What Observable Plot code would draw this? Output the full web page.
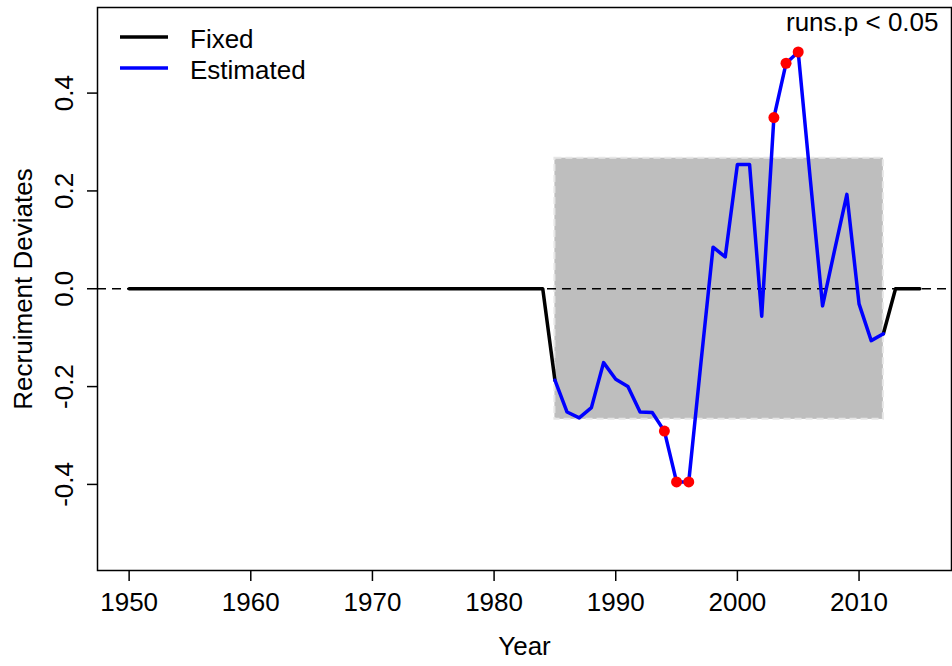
<!DOCTYPE html>
<html>
<head>
<meta charset="utf-8">
<script src="https://cdn.jsdelivr.net/npm/d3@7"></script>
<script src="https://cdn.jsdelivr.net/npm/@observablehq/plot@0.6"></script>
<style>
  body { margin: 0; background: white; }
  #chart { width: 952px; height: 666px; }
</style>
</head>
<body>
<div id="chart"></div>
<script>
// recruitment deviates
var years = [
  1950, 1951, 1952, 1953, 1954, 1955, 1956, 1957, 1958, 1959,
  1960, 1961, 1962, 1963, 1964, 1965, 1966, 1967, 1968, 1969,
  1970, 1971, 1972, 1973, 1974, 1975, 1976, 1977, 1978, 1979,
  1980, 1981, 1982, 1983, 1984, 1985, 1986, 1987, 1988, 1989,
  1990, 1991, 1992, 1993, 1994, 1995, 1996, 1997, 1998, 1999,
  2000, 2001, 2002, 2003, 2004, 2005, 2006, 2007, 2008, 2009,
  2010, 2011, 2012, 2013, 2014, 2015
];
var deviates = [
  0, 0, 0, 0, 0, 0, 0, 0, 0, 0,
  0, 0, 0, 0, 0, 0, 0, 0, 0, 0,
  0, 0, 0, 0, 0, 0, 0, 0, 0, 0,
  0, 0, 0, 0, 0, -0.187, -0.252, -0.264, -0.243, -0.151,
  -0.185, -0.2, -0.252, -0.253, -0.291, -0.395, -0.395, -0.152, 0.085, 0.065,
  0.254, 0.254, -0.056, 0.35, 0.461, 0.484, 0.222, -0.035, 0.08, 0.193,
  -0.031, -0.106, -0.092, 0, 0, 0
];
var estStart = 1985;
var estEnd = 2012;
var flaggedYears = [1994, 1995, 1996, 2003, 2004, 2005];
var boxYears = [1985, 2012];
var boxLimits = [-0.267, 0.267];
var xTicks = [1950, 1960, 1970, 1980, 1990, 2000, 2010];
var yTicks = [-0.4, -0.2, 0.0, 0.2, 0.4];
var legendItems = [
  { label: "Fixed", color: "black" },
  { label: "Estimated", color: "blue" }
];
var runsLabel = "runs.p < 0.05";

var rows = years.map((year, i) => ({ year: year, dev: deviates[i] }));
var fixedEarly = rows.filter((d) => d.year <= estStart);
var estimated = rows.filter((d) => d.year >= estStart && d.year <= estEnd);
var fixedLate = rows.filter((d) => d.year >= estEnd);
var flagged = rows.filter((d) => flaggedYears.includes(d.year));

// legend drawn in frame space (top-left corner)
function legend(index, scales, values, dims) {
  var g = d3.create("svg:g").attr("text-anchor", "start");
  legendItems.forEach((item, i) => {
    var y = dims.marginTop + 30 + i * 31;
    g.append("line")
      .attr("x1", dims.marginLeft + 23)
      .attr("x2", dims.marginLeft + 71)
      .attr("y1", y)
      .attr("y2", y)
      .attr("stroke", item.color)
      .attr("stroke-width", 3.5);
    g.append("text")
      .attr("x", dims.marginLeft + 93)
      .attr("y", y + 2)
      .attr("dy", "0.35em")
      .attr("fill", "black")
      .text(item.label);
  });
  return g.node();
}

var plot = Plot.plot({
  width: 952,
  height: 666,
  marginLeft: 97,
  marginRight: 1,
  marginTop: 7,
  marginBottom: 96,
  style: {
    background: "white",
    color: "black",
    fontFamily: "'Liberation Sans', Arial, sans-serif",
    fontSize: "26px",
  },
  x: { domain: [1947.4, 2017.6] },
  y: { domain: [-0.576, 0.575] },
  marks: [
    Plot.rect([boxLimits], {
      x1: () => boxYears[0],
      x2: () => boxYears[1],
      y1: (d) => d[0],
      y2: (d) => d[1],
      fill: "#bebebe",
      stroke: "#e6e6e6",
      strokeWidth: 2,
      strokeDasharray: "7,4",
    }),
    Plot.ruleY([0], { stroke: "black", strokeWidth: 1.5, strokeDasharray: "9,6" }),
    Plot.line(fixedEarly, { x: "year", y: "dev", stroke: "black", strokeWidth: 3.5 }),
    Plot.line(fixedLate, { x: "year", y: "dev", stroke: "black", strokeWidth: 3.5 }),
    Plot.line(estimated, { x: "year", y: "dev", stroke: "blue", strokeWidth: 3.5 }),
    Plot.dot(flagged, { x: "year", y: "dev", fill: "red", r: 5.5 }),
    Plot.axisX({
      ticks: xTicks,
      tickSize: 11,
      tickPadding: 11,
      tickFormat: (d) => String(d),
      strokeWidth: 1.5,
      label: null,
    }),
    Plot.axisY({
      ticks: yTicks,
      tickSize: 10,
      tickFormat: () => "",
      strokeWidth: 1.5,
      label: null,
    }),
    Plot.text(yTicks, {
      y: (d) => d,
      text: (d) => d.toFixed(1),
      frameAnchor: "left",
      dx: -33,
      rotate: -90,
      textAnchor: "middle",
      lineAnchor: "middle",
      fill: "black",
    }),
    Plot.text(["Year"], { frameAnchor: "bottom", dy: 76, lineAnchor: "middle", fill: "black" }),
    Plot.text(["Recruiment Deviates"], {
      frameAnchor: "left",
      dx: -74,
      rotate: -90,
      textAnchor: "middle",
      lineAnchor: "middle",
      fill: "black",
    }),
    Plot.text([runsLabel], {
      frameAnchor: "top-right",
      dx: -13,
      dy: 5,
      textAnchor: "end",
      lineAnchor: "top",
      fill: "black",
    }),
    legend,
    Plot.frame({ stroke: "black", strokeWidth: 1.5 }),
  ],
});
document.getElementById("chart").append(plot);
</script>
</body>
</html>
